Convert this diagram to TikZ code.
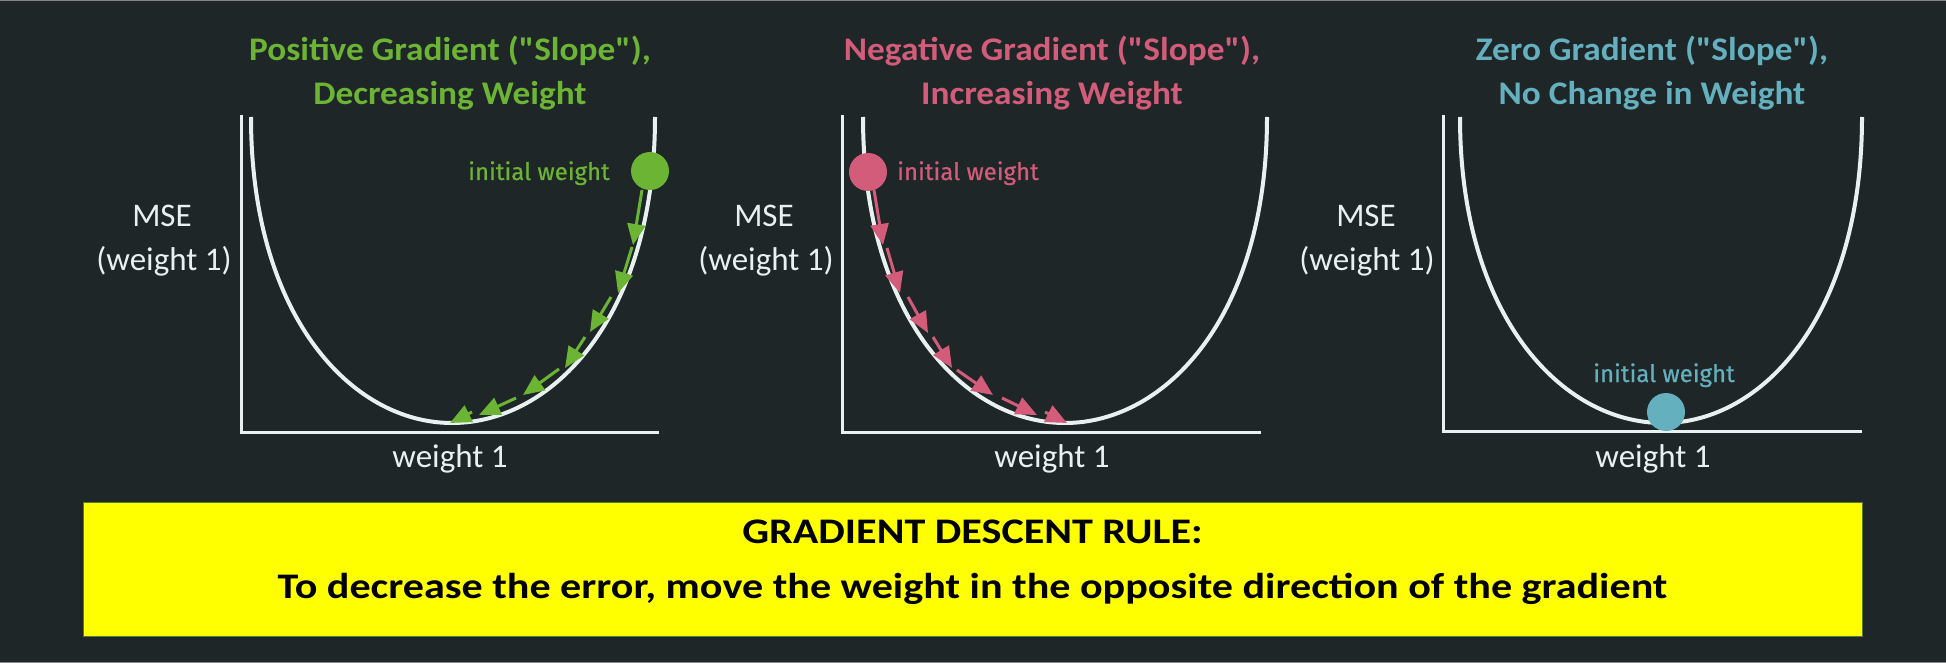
\documentclass[tikz,border=0pt]{standalone}
\usepackage{fontspec}
\setmainfont{Carlito}[Ligatures=TeXOff]
\newfontfamily\titlefont{Carlito}[Ligatures=TeXOff, FakeStretch=1.07]
\newfontfamily\rulefont{Carlito}[Ligatures=TeXOff, FakeStretch=1.17]
\newfontfamily\handfont{Fira Sans}[FakeBold=0.5]
\usetikzlibrary{arrows.meta}
\definecolor{bg}{RGB}{31,38,40}
\definecolor{gr}{RGB}{108,180,52}
\definecolor{pk}{RGB}{210,92,122}
\definecolor{tl}{RGB}{100,176,190}
\definecolor{wt}{RGB}{232,240,240}
\definecolor{yl}{RGB}{255,255,0}
\definecolor{frame}{RGB}{130,134,136}
\definecolor{boxedge}{RGB}{90,120,60}
\begin{document}
\begin{tikzpicture}[x=1pt,y=-1pt,
  title/.style={font=\titlefont\fontsize{33}{38}\selectfont\bfseries, anchor=base, inner sep=0},
  axlab/.style={font=\fontsize{33}{38}\selectfont, text=wt, anchor=base, inner sep=0},
  iw/.style={font=\handfont\fontsize{24}{28}\selectfont, anchor=base, inner sep=0},
  rule/.style={font=\rulefont\fontsize{36}{40}\selectfont\bfseries, text=black, anchor=base, inner sep=0},
  axisline/.style={draw=wt, line width=3pt, line join=miter},
  curve/.style={draw=wt, line width=4pt},
  stepar/.style={line width=3pt, -{Triangle[length=21pt,width=18pt]}},
  ball/.style={circle, minimum size=38pt, inner sep=0}
]
\useasboundingbox (0,0) rectangle (1946,663);
\fill[bg] (0,0) rectangle (1946,663);
\draw[frame, line width=1.5pt] (0,0.75) -- (1946,0.75);
\draw[frame, line width=1.5pt] (0,662.25) -- (1946,662.25);

% ---------- Panel 1 ----------
\node[title, text=gr] (t1a) at (450,61) {Positive Gradient ("Slope"),};
\node[title, text=gr] (t1b) at (450,105) {Decreasing Weight};
\node[axlab] (m1a) at (162,226) {MSE};
\node[axlab] (m1b) at (164,270) {(weight 1)};
\node[axlab] (w1) at (450,467) {weight 1};
\coordinate (o1) at (241,432);
\draw[axisline] (241,115) -- (o1) -- (659,432);
\coordinate (l1) at (251,117); \coordinate (c1) at (452,423); \coordinate (r1) at (655,117);
\draw[curve] (l1) .. controls (251,316) and (351.5,423) .. (c1)
             .. controls (553.5,423) and (655,316) .. (r1);
\coordinate (g1s) at (642,190); \coordinate (g1e) at (633,245);
\coordinate (g2s) at (632,247); \coordinate (g2e) at (618,293);
\coordinate (g3s) at (611,297); \coordinate (g3e) at (590,332);
\coordinate (g4s) at (585,337); \coordinate (g4e) at (565,368);
\coordinate (g5s) at (559,369); \coordinate (g5e) at (523,395);
\coordinate (g6s) at (516,398); \coordinate (g6e) at (479,415);
\coordinate (g7s) at (472,412); \coordinate (g7e) at (450,423);
\foreach \i in {1,...,7} { \draw[stepar, gr] (g\i s) -- (g\i e); }
\node[ball, fill=gr] (d1) at (650,171) {};
\node[iw, text=gr] (i1) at (539,180) {initial weight};

% ---------- Panel 2 ----------
\node[title, text=pk] (t2a) at (1052,61) {Negative Gradient ("Slope"),};
\node[title, text=pk] (t2b) at (1052,105) {Increasing Weight};
\node[axlab] (m2a) at (764,226) {MSE};
\node[axlab] (m2b) at (766,270) {(weight 1)};
\node[axlab] (w2) at (1052,467) {weight 1};
\coordinate (o2) at (842,432);
\draw[axisline] (842,115) -- (o2) -- (1261,432);
\coordinate (l2) at (863,117); \coordinate (c2) at (1065,423); \coordinate (r2) at (1267,117);
\draw[curve] (l2) .. controls (863,316) and (964,423) .. (c2)
             .. controls (1166,423) and (1267,316) .. (r2);
\coordinate (p1s) at (874,190); \coordinate (p1e) at (883,245);
\coordinate (p2s) at (887,248); \coordinate (p2e) at (900,293);
\coordinate (p3s) at (908,297); \coordinate (p3e) at (928,333);
\coordinate (p4s) at (933,337); \coordinate (p4e) at (952,368);
\coordinate (p5s) at (957,370); \coordinate (p5e) at (993,395);
\coordinate (p6s) at (1002,398); \coordinate (p6e) at (1037,415);
\coordinate (p7s) at (1045,412); \coordinate (p7e) at (1067,423);
\foreach \i in {1,...,7} { \draw[stepar, pk] (p\i s) -- (p\i e); }
\node[ball, fill=pk] (d2) at (868,172) {};
\node[iw, text=pk] (i2) at (968,180) {initial weight};

% ---------- Panel 3 ----------
\node[title, text=tl] (t3a) at (1652,61) {Zero Gradient ("Slope"),};
\node[title, text=tl] (t3b) at (1652,105) {No Change in Weight};
\node[axlab] (m3a) at (1366,226) {MSE};
\node[axlab] (m3b) at (1367,270) {(weight 1)};
\node[axlab] (w3) at (1653,467) {weight 1};
\coordinate (o3) at (1443,431);
\draw[axisline] (1443,115) -- (o3) -- (1862,431);
\coordinate (l3) at (1460,117); \coordinate (c3) at (1663,423); \coordinate (r3) at (1862,117);
\draw[curve] (l3) .. controls (1460,316) and (1561.5,423) .. (c3)
             .. controls (1762.5,423) and (1862,316) .. (r3);
\node[ball, fill=tl] (d3) at (1666,412) {};
\node[iw, text=tl] (i3) at (1664,382) {initial weight};

% ---------- Rule box ----------
\node[draw=boxedge, fill=yl, line width=1pt, minimum width=1779pt, minimum height=134pt, inner sep=0, anchor=north west] (box) at (83,502) {};
\node[rule] (r1t) at (972.5,543) {GRADIENT DESCENT RULE:};
\node[rule] (r2t) at (972.5,598) {To decrease the error, move the weight in the opposite direction of the gradient};
\end{tikzpicture}
\end{document}
